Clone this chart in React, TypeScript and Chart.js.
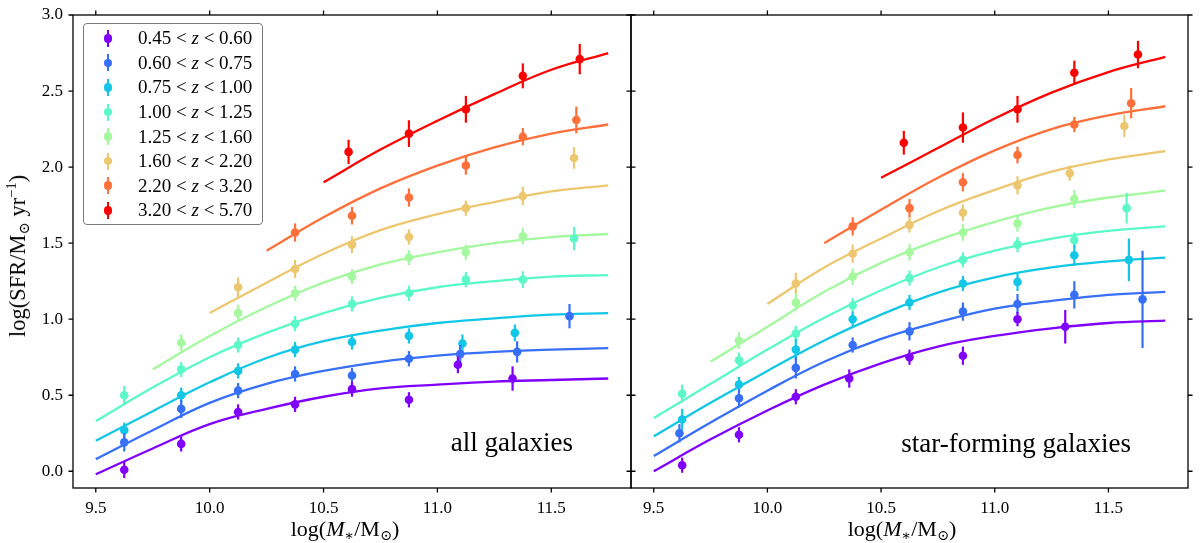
import { useEffect, useRef } from "react"
import { Chart, registerables } from "chart.js"

Chart.register(...registerables)

const FONT = "'Liberation Serif', 'DejaVu Serif', serif"

// redshift bins + rainbow colours
const zLow = [0.45, 0.6, 0.75, 1.0, 1.25, 1.6, 2.2, 3.2]
const zHigh = [0.6, 0.75, 1.0, 1.25, 1.6, 2.2, 3.2, 5.7]
const colors = ["#8000ff", "#376ff9", "#12c7e6", "#5bf9c7", "#a4f99f", "#edc76f", "#ff6f39", "#ff0000"]

const xTicks = [9.5, 10.0, 10.5, 11.0, 11.5]
const yTicks = [0.0, 0.5, 1.0, 1.5, 2.0, 2.5, 3.0]

// mass grid on which the fitted curves were read
const curveMass = [9.5, 9.75, 10.0, 10.25, 10.5, 10.75, 11.0, 11.25, 11.5, 11.75]

// ---- all galaxies ----
const allMass = [
  [9.625, 9.875, 10.125, 10.375, 10.625, 10.875, 11.09, 11.33],
  [9.625, 9.875, 10.125, 10.375, 10.625, 10.875, 11.1, 11.35, 11.58],
  [9.625, 9.875, 10.125, 10.375, 10.625, 10.875, 11.11, 11.34],
  [9.625, 9.875, 10.125, 10.375, 10.625, 10.875, 11.125, 11.375, 11.6],
  [9.875, 10.125, 10.375, 10.625, 10.875, 11.125, 11.375],
  [10.125, 10.375, 10.625, 10.875, 11.125, 11.375, 11.6],
  [10.375, 10.625, 10.875, 11.125, 11.375, 11.61],
  [10.61, 10.875, 11.125, 11.375, 11.625],
]
const allSfr = [
  [0.01, 0.18, 0.39, 0.44, 0.54, 0.47, 0.7, 0.61],
  [0.19, 0.41, 0.53, 0.64, 0.63, 0.74, 0.77, 0.785, 1.02],
  [0.27, 0.5, 0.66, 0.8, 0.85, 0.89, 0.84, 0.91],
  [0.5, 0.67, 0.83, 0.97, 1.1, 1.17, 1.26, 1.26, 1.53],
  [0.845, 1.04, 1.17, 1.28, 1.405, 1.44, 1.545],
  [1.21, 1.33, 1.49, 1.54, 1.73, 1.81, 2.06],
  [1.57, 1.68, 1.8, 2.01, 2.2, 2.31],
  [2.1, 2.22, 2.38, 2.6, 2.71],
]
const allErr = [
  [0.055, 0.05, 0.05, 0.05, 0.05, 0.05, 0.055, 0.08],
  [0.06, 0.06, 0.05, 0.05, 0.05, 0.05, 0.06, 0.07, 0.08],
  [0.05, 0.05, 0.05, 0.05, 0.05, 0.05, 0.06, 0.055],
  [0.06, 0.05, 0.05, 0.05, 0.05, 0.05, 0.05, 0.055, 0.077],
  [0.055, 0.055, 0.05, 0.05, 0.05, 0.05, 0.055],
  [0.065, 0.06, 0.055, 0.05, 0.05, 0.06, 0.071],
  [0.06, 0.058, 0.06, 0.06, 0.057, 0.088],
  [0.08, 0.088, 0.088, 0.082, 0.1],
]
const allCurve: (number | null)[][] = [
  [-0.02, 0.15, 0.31, 0.41, 0.49, 0.545, 0.57, 0.59, 0.6, 0.61],
  [0.08, 0.27, 0.45, 0.575, 0.66, 0.72, 0.76, 0.785, 0.8, 0.81],
  [0.2, 0.395, 0.585, 0.745, 0.855, 0.925, 0.975, 1.005, 1.03, 1.04],
  [0.33, 0.55, 0.75, 0.91, 1.04, 1.14, 1.21, 1.25, 1.28, 1.29],
  [null, 0.67, 0.89, 1.08, 1.24, 1.36, 1.44, 1.5, 1.54, 1.56],
  [null, null, 1.04, 1.24, 1.43, 1.585, 1.69, 1.77, 1.84, 1.88],
  [null, null, null, 1.45, 1.67, 1.86, 2.01, 2.13, 2.22, 2.28],
  [null, null, null, null, 1.9, 2.115, 2.305, 2.48, 2.64, 2.75],
]

// ---- star-forming galaxies ----
const sfMass = [
  [9.625, 9.875, 10.125, 10.36, 10.625, 10.86, 11.1, 11.31],
  [9.613, 9.875, 10.125, 10.375, 10.625, 10.86, 11.1, 11.35, 11.65],
  [9.625, 9.875, 10.125, 10.375, 10.625, 10.86, 11.1, 11.35, 11.59],
  [9.625, 9.875, 10.125, 10.375, 10.625, 10.86, 11.1, 11.35, 11.58],
  [9.875, 10.125, 10.375, 10.625, 10.86, 11.1, 11.35],
  [10.125, 10.375, 10.625, 10.86, 11.1, 11.33, 11.57],
  [10.375, 10.625, 10.86, 11.1, 11.35, 11.6],
  [10.6, 10.86, 11.1, 11.35, 11.63],
]
const sfSfr = [
  [0.04, 0.24, 0.49, 0.61, 0.75, 0.76, 1.0, 0.95],
  [0.25, 0.48, 0.68, 0.83, 0.92, 1.05, 1.1, 1.16, 1.13],
  [0.34, 0.57, 0.8, 1.0, 1.11, 1.235, 1.245, 1.42, 1.39],
  [0.51, 0.73, 0.905, 1.09, 1.27, 1.39, 1.49, 1.52, 1.73],
  [0.86, 1.11, 1.28, 1.44, 1.57, 1.63, 1.79],
  [1.235, 1.43, 1.62, 1.7, 1.88, 1.96, 2.27],
  [1.61, 1.73, 1.9, 2.08, 2.28, 2.42],
  [2.16, 2.26, 2.38, 2.62, 2.74],
]
const sfErr = [
  [0.05, 0.05, 0.05, 0.06, 0.05, 0.06, 0.047, 0.11],
  [0.06, 0.06, 0.07, 0.05, 0.06, 0.06, 0.066, 0.09, 0.32],
  [0.07, 0.05, 0.07, 0.05, 0.05, 0.05, 0.06, 0.07, 0.14],
  [0.06, 0.05, 0.05, 0.05, 0.05, 0.05, 0.05, 0.05, 0.1],
  [0.055, 0.055, 0.055, 0.055, 0.055, 0.055, 0.06],
  [0.07, 0.06, 0.05, 0.055, 0.06, 0.05, 0.073],
  [0.06, 0.06, 0.06, 0.055, 0.05, 0.1],
  [0.078, 0.1, 0.088, 0.08, 0.09],
]
const sfCurve: (number | null)[][] = [
  [0.0, 0.21, 0.4, 0.57, 0.71, 0.82, 0.89, 0.94, 0.975, 0.99],
  [0.1, 0.32, 0.53, 0.72, 0.87, 0.98, 1.07, 1.12, 1.16, 1.18],
  [0.23, 0.45, 0.66, 0.86, 1.03, 1.175, 1.275, 1.34, 1.38, 1.405],
  [0.35, 0.575, 0.8, 1.01, 1.19, 1.34, 1.45, 1.53, 1.58, 1.61],
  [null, 0.72, 0.95, 1.18, 1.37, 1.52, 1.64, 1.735, 1.8, 1.845],
  [null, null, 1.1, 1.34, 1.53, 1.71, 1.85, 1.97, 2.05, 2.105],
  [null, null, null, 1.5, 1.72, 1.93, 2.11, 2.25, 2.34, 2.4],
  [null, null, null, null, 1.93, 2.125, 2.32, 2.49, 2.625, 2.725],
]

// vertical error bars, drawn just before each point dataset
const errorBars = {
  id: "errorBars",
  beforeDatasetDraw(chart: any, args: any) {
    const ds = chart.data.datasets[args.index]
    if (!ds.err) return
    const { x, y } = chart.scales
    const ctx = chart.ctx
    ctx.save()
    ctx.strokeStyle = ds.backgroundColor
    ctx.lineWidth = 2.2
    ds.data.forEach((p: any, i: number) => {
      const px = x.getPixelForValue(p.x)
      ctx.beginPath()
      ctx.moveTo(px, y.getPixelForValue(p.y - ds.err[i]))
      ctx.lineTo(px, y.getPixelForValue(p.y + ds.err[i]))
      ctx.stroke()
    })
    ctx.restore()
  },
}

// black frame with outward ticks on all four sides
const frame = {
  id: "frame",
  afterDraw(chart: any) {
    const { ctx, chartArea: a } = chart
    const { x, y } = chart.scales
    ctx.save()
    ctx.strokeStyle = "#000"
    ctx.lineWidth = 1.3
    ctx.strokeRect(a.left, a.top, a.right - a.left, a.bottom - a.top)
    ctx.beginPath()
    xTicks.forEach((v) => {
      const px = x.getPixelForValue(v)
      ctx.moveTo(px, a.bottom)
      ctx.lineTo(px, a.bottom + 4.5)
      ctx.moveTo(px, a.top)
      ctx.lineTo(px, a.top - 4.5)
    })
    yTicks.forEach((v) => {
      const py = y.getPixelForValue(v)
      ctx.moveTo(a.left, py)
      ctx.lineTo(a.left - 4.5, py)
      ctx.moveTo(a.right, py)
      ctx.lineTo(a.right + 4.5, py)
    })
    ctx.stroke()
    ctx.restore()
  },
}

function buildDatasets(mass: number[][], sfr: number[][], err: number[][], curve: (number | null)[][]) {
  const sets: any[] = []
  colors.forEach((c, s) => {
    sets.push({
      data: mass[s].map((m, i) => ({ x: m, y: sfr[s][i] })),
      err: err[s],
      showLine: false,
      pointRadius: 4.3,
      pointHoverRadius: 4.3,
      backgroundColor: c,
      borderWidth: 0,
    })
    sets.push({
      data: curveMass
        .map((m, i) => ({ x: m, y: curve[s][i] }))
        .filter((p) => p.y !== null),
      showLine: true,
      pointRadius: 0,
      borderColor: c,
      borderWidth: 2.3,
      tension: 0.4,
    })
  })
  return sets
}

function makeChart(
  canvas: HTMLCanvasElement,
  datasets: any[],
  showY: boolean,
  padding: { left: number; right: number }
) {
  const tickFont = { family: FONT, size: 17 }
  return new Chart(canvas, {
    type: "scatter",
    data: { datasets },
    plugins: [errorBars, frame],
    options: {
      animation: false,
      responsive: false,
      events: [],
      layout: { padding: { top: 15, bottom: 0, left: padding.left, right: padding.right } },
      plugins: { legend: { display: false }, tooltip: { enabled: false } },
      scales: {
        x: {
          type: "linear",
          min: 9.4,
          max: 11.85,
          afterBuildTicks: (s: any) => {
            s.ticks = xTicks.map((v) => ({ value: v }))
          },
          afterFit: (s: any) => {
            s.height = 55
            s.paddingLeft = 0
            s.paddingRight = 0
          },
          ticks: {
            color: "#000",
            font: tickFont,
            padding: 10,
            autoSkip: false,
            maxRotation: 0,
            callback: (v: any) => Number(v).toFixed(1),
          },
          grid: { display: false, drawTicks: false },
          border: { display: false },
        },
        y: {
          type: "linear",
          display: showY,
          min: -0.11,
          max: 3.0,
          afterBuildTicks: (s: any) => {
            s.ticks = yTicks.map((v) => ({ value: v }))
          },
          afterFit: (s: any) => {
            s.width = showY ? 73 : 0
            s.paddingTop = 0
            s.paddingBottom = 0
          },
          ticks: {
            color: "#000",
            font: tickFont,
            padding: 10,
            callback: (v: any) => Number(v).toFixed(1),
          },
          grid: { display: false, drawTicks: false },
          border: { display: false },
        },
      },
    } as any,
  })
}

function LegendBox() {
  return (
    <div
      style={{
        position: "absolute",
        left: 83,
        top: 23,
        width: 180,
        height: 202,
        border: "1.3px solid #7a7a7a",
        borderRadius: 4,
        background: "rgba(255,255,255,0.85)",
        boxSizing: "border-box",
      }}
    >
      {colors.map((c, i) => (
        <div key={i} style={{ position: "absolute", left: 0, top: 14.3 + i * 24.57 - 12, height: 24, width: 178 }}>
          <div style={{ position: "absolute", left: 23, top: 3.5, width: 2.2, height: 17, background: c }} />
          <div
            style={{
              position: "absolute",
              left: 19.7,
              top: 7.7,
              width: 8.6,
              height: 8.6,
              borderRadius: "50%",
              background: c,
            }}
          />
          <div
            style={{
              position: "absolute",
              left: 54,
              top: 0,
              lineHeight: "24px",
              fontSize: 19,
              whiteSpace: "nowrap",
            }}
          >
            {zLow[i].toFixed(2)} &lt; <i>z</i> &lt; {zHigh[i].toFixed(2)}
          </div>
        </div>
      ))}
    </div>
  )
}

const subStyle = { fontSize: "0.65em", verticalAlign: "-0.3em", lineHeight: 0 }
const supStyle = { fontSize: "0.65em", verticalAlign: "0.6em", lineHeight: 0 }

function XTitle({ center }: { center: number }) {
  return (
    <div
      style={{
        position: "absolute",
        left: center,
        top: 529,
        transform: "translate(-50%, -50%)",
        fontSize: 22,
        lineHeight: "26px",
        whiteSpace: "nowrap",
      }}
    >
      log(<i>M</i>
      <span style={subStyle}>∗</span>/M<span style={subStyle}>⊙</span>)
    </div>
  )
}

export default function App() {
  const leftRef = useRef<HTMLCanvasElement>(null)
  const rightRef = useRef<HTMLCanvasElement>(null)

  useEffect(() => {
    document.body.style.margin = "0"
    if (!leftRef.current || !rightRef.current) return
    const left = makeChart(leftRef.current, buildDatasets(allMass, allSfr, allErr, allCurve), true, {
      left: 0,
      right: 14,
    })
    const right = makeChart(rightRef.current, buildDatasets(sfMass, sfSfr, sfErr, sfCurve), false, {
      left: 14,
      right: 12,
    })
    return () => {
      left.destroy()
      right.destroy()
    }
  }, [])

  return (
    <div
      style={{
        position: "relative",
        width: 1200,
        height: 543,
        fontFamily: FONT,
        color: "#000",
        background: "#fff",
        overflow: "hidden",
      }}
    >
      <canvas ref={leftRef} width={645} height={543} style={{ position: "absolute", left: 0, top: 0 }} />
      <canvas ref={rightRef} width={583} height={543} style={{ position: "absolute", left: 617, top: 0 }} />
      <LegendBox />
      <div style={{ position: "absolute", left: 18, top: 256, width: 0, height: 0 }}>
        <div
          style={{
            position: "absolute",
            left: 0,
            top: 0,
            transform: "translate(-50%, -50%) rotate(-90deg)",
            fontSize: 22.5,
            lineHeight: "26px",
            whiteSpace: "nowrap",
          }}
        >
          log(SFR/M<span style={subStyle}>⊙</span> yr<span style={supStyle}>−1</span>)
        </div>
      </div>
      <XTitle center={345} />
      <XTitle center={902} />
      <div
        style={{
          position: "absolute",
          right: 1200 - 573,
          top: 442,
          transform: "translateY(-50%)",
          fontSize: 27,
          whiteSpace: "nowrap",
        }}
      >
        all galaxies
      </div>
      <div
        style={{
          position: "absolute",
          right: 1200 - 1131,
          top: 443,
          transform: "translateY(-50%)",
          fontSize: 27,
          whiteSpace: "nowrap",
        }}
      >
        star-forming galaxies
      </div>
    </div>
  )
}
